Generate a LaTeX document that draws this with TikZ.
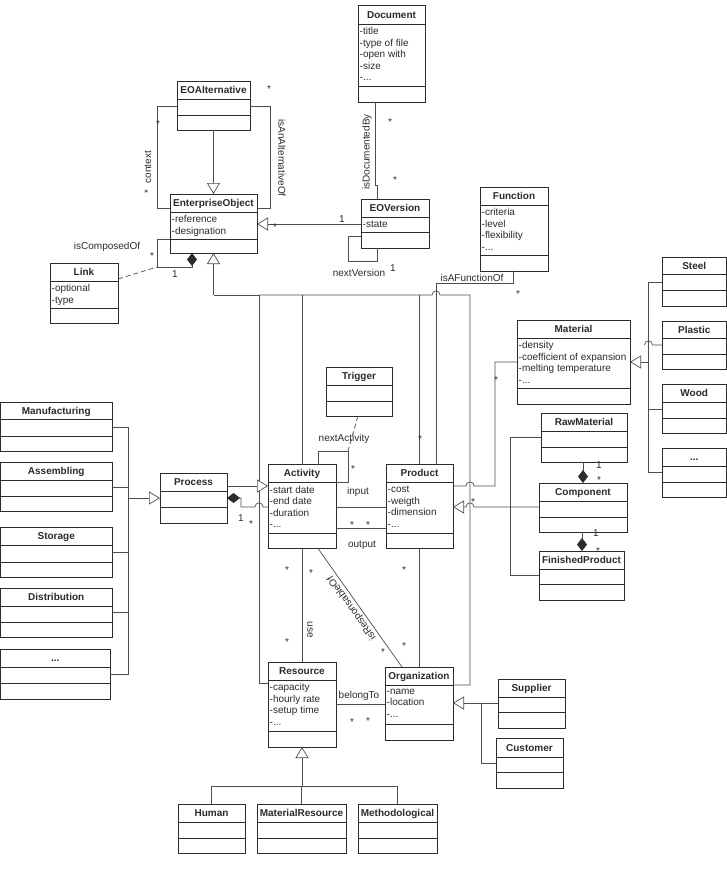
\documentclass[tikz,border=0pt]{standalone}
\usepackage{fontspec}
\setmainfont{Liberation Sans}
\usetikzlibrary{arrows.meta}
\definecolor{UmlLine}{HTML}{2B2B2B}
\definecolor{UmlWire}{HTML}{4D4D4D}
\tikzset{
  classbox/.style={draw=UmlLine, fill=white, line width=0.8pt, inner sep=0pt, outer sep=0pt},
  classline/.style={draw=UmlLine, line width=0.8pt},
  classname/.style={font=\fontsize{10}{12}\selectfont\bfseries, text=UmlLine, text height=7pt, text depth=0pt, inner sep=0pt},
  classattr/.style={anchor=north west, align=left, font=\fontsize{10}{11.5}\selectfont, text=UmlLine, inner xsep=1.5pt, inner ysep=3.5pt},
  wire/.style={draw=UmlWire, line width=0.7pt},
  genflow/.style={wire, -{Triangle[open, fill=white, length=11pt, width=13pt]}},
  compflow/.style={wire, -{Diamond[length=13pt, width=10pt, color=UmlLine, fill=UmlLine]}},
  linkflow/.style={wire, dash pattern=on 5pt off 3pt},
  wirelabel/.style={font=\fontsize{10}{12}\selectfont, text=UmlLine, inner sep=0pt},
  mult/.style={font=\fontsize{10}{12}\selectfont, text=UmlLine, inner sep=0pt},
  star/.style={mult, yshift=-2pt}
}
% name, left, top, width, name height, attribute height, operation height, title, attributes
\newcommand{\umlclass}[9]{%
  \node[classbox, minimum width=#4pt, minimum height=#5pt+#6pt+#7pt, anchor=north west] (#1) at (#2,#3) {};
  \draw[classline] ([yshift=-#5pt]#1.north west) -- ([yshift=-#5pt]#1.north east);
  \draw[classline] ([yshift=-#5pt-#6pt]#1.north west) -- ([yshift=-#5pt-#6pt]#1.north east);
  \node[classname] (#1-name) at ([yshift=-0.5*#5pt]#1.north) {#8};
  \node[classattr] (#1-attr) at ([yshift=-#5pt]#1.north west) {#9};
}

\begin{document}
\begin{tikzpicture}[x=1pt, y=-1pt]
  \useasboundingbox (0,0) rectangle (727,878);

  % classes
  \umlclass{document}{358}{5}{67}{19}{62}{16}{Document}{-title\\-type of file\\-open with\\-size\\-...}
  \umlclass{eoalt}{177}{81}{73}{18}{16}{15}{EOAlternative}{}
  \umlclass{eo}{170}{194}{87}{18}{27}{14}{EnterpriseObject}{-reference\\-designation}
  \umlclass{link}{50}{263}{68}{18}{27}{15}{Link}{-optional\\-type}
  \umlclass{eoversion}{361}{199}{68}{18}{15}{16}{EOVersion}{-state}
  \umlclass{function}{480}{187}{68}{18}{50}{16}{Function}{-criteria\\-level\\-flexibility\\-...}
  \umlclass{material}{517}{320}{113}{18}{50}{16}{Material}{-density\\-coefficient of expansion\\-melting temperature\\-...}
  \umlclass{steel}{662}{257}{64.5}{17}{16}{16}{Steel}{}
  \umlclass{plastic}{662}{321}{64.5}{17}{16}{15}{Plastic}{}
  \umlclass{wood}{662}{384}{64.5}{18}{16}{15}{Wood}{}
  \umlclass{morematerial}{662}{448}{64.5}{18}{16}{15}{...}{}
  \umlclass{trigger}{326}{367}{66}{18}{16}{15}{Trigger}{}
  \umlclass{activity}{268}{464}{68}{18.5}{51}{15}{Activity}{-start date\\-end date\\-duration\\-...}
  \umlclass{product}{386}{464}{67}{18.5}{51}{15}{Product}{-cost\\-weigth\\-dimension\\-...}
  \umlclass{process}{160}{473}{67}{18}{16}{16}{Process}{}
  \umlclass{rawmaterial}{541}{413}{86}{18}{16}{15}{RawMaterial}{}
  \umlclass{component}{539}{483}{88}{18}{16}{15}{Component}{}
  \umlclass{finished}{539}{551}{85}{18}{15}{16}{FinishedProduct}{}
  \umlclass{manufacturing}{0.5}{402}{111.5}{17}{17}{15}{Manufacturing}{}
  \umlclass{assembling}{0.5}{462}{111.5}{18}{16}{15}{Assembling}{}
  \umlclass{storage}{0.5}{527}{111.5}{18}{17}{15}{Storage}{}
  \umlclass{distribution}{0.5}{588}{111.5}{18}{16}{15}{Distribution}{}
  \umlclass{moreprocess}{0.5}{649}{109.5}{18}{16}{16}{...}{}
  \umlclass{resource}{268}{662}{68}{18}{51}{16}{Resource}{-capacity\\-hourly rate\\-setup time\\-...}
  \umlclass{organization}{385}{667}{68}{18}{39}{16}{Organization}{-name\\-location\\-...}
  \umlclass{supplier}{498}{679}{67}{18}{15}{16}{Supplier}{}
  \umlclass{customer}{496}{738}{67}{19}{15}{16}{Customer}{}
  \umlclass{human}{178}{804}{67}{18}{16}{15}{Human}{}
  \umlclass{matres}{257}{804}{89}{18}{16}{15}{MaterialResource}{}
  \umlclass{methodological}{358}{804}{79}{18}{16}{15}{Methodological}{}

  % EOAlternative and EnterpriseObject
  \draw[genflow] (eoalt.south) -- (eo.north);
  \draw[wire] (eoalt.west |- 0,106) -- (157,106) -- (157,208) -- (eo.west |- 0,208);
  \draw[wire] (eoalt.east |- 0,106) -- (270,106) -- (270,208) -- (eo.east |- 0,208);
  \node[wirelabel, rotate=90] (ctxlabel) at (148,167) {context};
  \node[wirelabel, rotate=-90] (altlabel) at (282,158) {isAnAlternativeOf};
  \node[star] (m-alt) at (269,87) {*};
  \node[star] (m-ctx-top) at (158,122) {*};
  \node[star, rotate=90] (m-ctx-low) at (148,190) {*};

  % isComposedOf with Link
  \coordinate (compjoint) at (157,267);
  \draw[compflow] (eo.west |- 0,239) -- (157,239) -- (compjoint) -- (192,267) -- (eo.south -| 192,0);
  \draw[linkflow] (link.east |- 0,279) -- (compjoint);
  \node[wirelabel] (complabel) at (107,247) {isComposedOf};
  \node[star] (m-comp-a) at (152,254) {*};
  \node[mult] (m-comp-b) at (175,274) {1};

  % EOVersion
  \draw[genflow] (eoversion.west |- 0,224) -- (eo.east |- 0,224);
  \node[mult] (m-ver-a) at (342,219) {1};
  \node[star] (m-ver-b) at (275,225) {*};
  \draw[wire] (eoversion.west |- 0,236) -- (348,236) -- (348,261) -- (377,261) -- (eoversion.south -| 377,0);
  \node[wirelabel] (verlabel) at (359,273) {nextVersion};
  \node[mult] (m-next) at (393,268) {1};
  \draw[wire] (document.south -| 375,0) -- (375,185) -- (377,185) -- (eoversion.north -| 377,0);
  \node[wirelabel, rotate=90] (doclabel) at (367,152) {isDocumentedBy};
  \node[star] (m-doc-a) at (390,120) {*};
  \node[star] (m-doc-b) at (395,178) {*};

  % Function
  \draw[wire] (function.south -| 513,0) -- (513,283) -- (436,283) -- (product.north -| 436,0);
  \node[wirelabel] (funclabel) at (472,278) {isAFunctionOf};
  \node[star] (m-func) at (518,292) {*};

  % inheritance from EnterpriseObject
  \draw[genflow] (eo.south |- 0,295) -- (eo.south);
  \draw[wire] (resource.west |- 0,683) -- (259,683) -- (259,295) -- (eo.south |- 0,295);
  \draw[wire] (259,295) -- (432,295) .. controls (432,289.5) and (440,289.5) .. (440,295) -- (470,295) -- (470,685) -- (organization.east |- 0,685);
  \draw[wire] (activity.north |- 0,295) -- (activity.north);
  \draw[wire] (product.north |- 0,295) -- (product.north);
  \node[star] (m-prod-top) at (420,437) {*};

  % Material
  \draw[wire] (product.east |- 0,486) -- (466,486) .. controls (466,480.5) and (474,480.5) .. (474,486) -- (495,486) -- (495,362) -- (material.west |- 0,362);
  \node[star] (m-mat) at (496,378) {*};
  \draw[genflow] (648.5,362) -- (material.east |- 0,362);
  \draw[wire] (steel.west |- 0,282) -- (648.5,282) -- (648.5,472) -- (morematerial.west |- 0,472);
  \draw[wire] (plastic.west |- 0,345) -- (652.5,345) .. controls (652.5,339.5) and (644.5,339.5) .. (644.5,345);
  \draw[wire] (wood.west |- 0,409) -- (648.5,409);

  % Process
  \draw[genflow] (128,498) -- (process.west |- 0,498);
  \draw[wire] (manufacturing.east |- 0,427) -- (128,427) -- (128,674) -- (moreprocess.east |- 0,674);
  \draw[wire] (assembling.east |- 0,487) -- (128,487);
  \draw[wire] (storage.east |- 0,552) -- (128,552);
  \draw[wire] (distribution.east |- 0,612) -- (128,612);
  \draw[genflow] (process.east |- 0,486) -- (activity.west |- 0,486);
  \draw[compflow] (activity.west |- 0,507) -- (263,507) .. controls (263,501.5) and (255,501.5) .. (255,507) -- (241,507) -- (241,498) -- (process.east |- 0,498);
  \node[mult] (m-proc-a) at (241,518) {1};
  \node[star] (m-proc-b) at (251,522) {*};

  % Activity and Trigger
  \coordinate (actloop) at (348,451);
  \draw[wire] (activity.north -| 318,0) -- (318,451) -- (actloop) -- (348,482) -- (activity.east |- 0,482);
  \draw[linkflow] (trigger.south -| 358,0) -- (actloop);
  \node[wirelabel] (actlabel) at (344,439) {nextActivity};
  \node[star] (m-act) at (353,467) {*};
  \draw[wire] (activity.east |- 0,507) -- (product.west |- 0,507);
  \node[wirelabel] (inlabel) at (358,492) {input};
  \draw[wire] (activity.east |- 0,528) -- (product.west |- 0,528);
  \node[wirelabel] (outlabel) at (362,545) {output};
  \node[star] (m-out-a) at (352,523) {*};
  \node[star] (m-out-b) at (368,523) {*};

  % Resource and Organization
  \draw[wire] (activity.south) -- (resource.north);
  \node[wirelabel, rotate=-90] (uselabel) at (310,630) {use};
  \node[star] (m-use-a) at (287,568) {*};
  \node[star] (m-use-b) at (311,571) {*};
  \node[star] (m-use-c) at (287,640) {*};
  \draw[wire] (activity.south -| 318,0) -- (organization.north -| 402,0);
  \node[wirelabel, rotate=125.4] (resplabel) at (352,608) {isResponsableOf};
  \node[star] (m-resp) at (383,650) {*};
  \draw[wire] (product.south) -- (organization.north -| 419.5,0);
  \node[star] (m-org-a) at (404,568) {*};
  \node[star] (m-org-b) at (404,644) {*};
  \draw[wire] (resource.east |- 0,704) -- (organization.west |- 0,704);
  \node[wirelabel] (belonglabel) at (359,696) {belongTo};
  \node[star] (m-bel-a) at (352,720) {*};
  \node[star] (m-bel-b) at (368,719) {*};
  \draw[genflow] (supplier.west |- 0,703) -- (organization.east |- 0,703);
  \draw[wire] (customer.west |- 0,763) -- (481,763) -- (481,703);
  \draw[genflow] (resource.south |- 0,786) -- (resource.south);
  \draw[wire] (human.north) -- (human.north |- 0,786) -- (methodological.north |- 0,786) -- (methodological.north);
  \draw[wire] (matres.north) -- (matres.north |- 0,786);

  % kinds of Product
  \draw[genflow] (component.west |- 0,507) -- (474,507) .. controls (474,501.5) and (466,501.5) .. (466,507) -- (product.east |- 0,507);
  \node[star] (m-kind) at (473,500) {*};
  \draw[wire] (rawmaterial.west |- 0,437) -- (510,437) -- (510,575) -- (finished.west |- 0,575);
  \draw[compflow] (rawmaterial.south -| 583,0) -- (component.north -| 583,0);
  \node[mult] (m-raw-a) at (599,465) {1};
  \node[star] (m-raw-b) at (599,478) {*};
  \draw[compflow] (component.south -| 582,0) -- (finished.north -| 582,0);
  \node[mult] (m-fin-a) at (596,533) {1};
  \node[star] (m-fin-b) at (598,549) {*};
\end{tikzpicture}
\end{document}
